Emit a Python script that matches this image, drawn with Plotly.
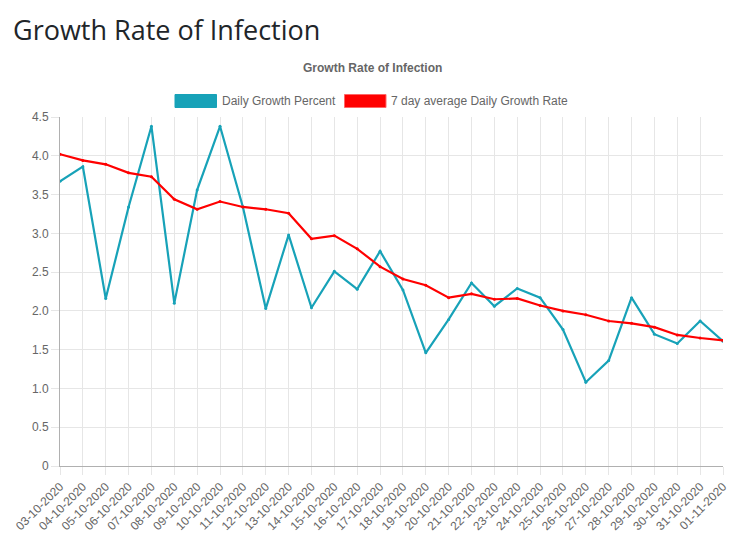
import plotly.graph_objects as go

dates = ["03-10-2020", "04-10-2020", "05-10-2020", "06-10-2020", "07-10-2020", "08-10-2020",
         "09-10-2020", "10-10-2020", "11-10-2020", "12-10-2020", "13-10-2020", "14-10-2020",
         "15-10-2020", "16-10-2020", "17-10-2020", "18-10-2020", "19-10-2020", "20-10-2020",
         "21-10-2020", "22-10-2020", "23-10-2020", "24-10-2020", "25-10-2020", "26-10-2020",
         "27-10-2020", "28-10-2020", "29-10-2020", "30-10-2020", "31-10-2020", "01-11-2020"]

daily_growth = [3.67, 3.86, 2.16, 3.34, 4.38, 2.10, 3.56, 4.38, 3.34, 2.03,
                2.98, 2.04, 2.51, 2.28, 2.77, 2.27, 1.46, 1.89, 2.36, 2.06,
                2.29, 2.17, 1.76, 1.08, 1.36, 2.17, 1.70, 1.58, 1.87, 1.61]

avg_7day = [4.02, 3.94, 3.89, 3.78, 3.73, 3.44, 3.31, 3.41, 3.34, 3.31,
            3.26, 2.93, 2.97, 2.80, 2.57, 2.41, 2.33, 2.17, 2.22, 2.15,
            2.16, 2.07, 2.00, 1.95, 1.87, 1.84, 1.79, 1.69, 1.65, 1.62]

y_ticks = [0, 0.5, 1.0, 1.5, 2.0, 2.5, 3.0, 3.5, 4.0, 4.5]
y_tick_labels = ["0", "0.5", "1.0", "1.5", "2.0", "2.5", "3.0", "3.5", "4.0", "4.5"]

series_names = ["Daily Growth Percent", "7 day average Daily Growth Rate"]
blue = "#17a2b8"
red = "#ff0000"

W, H = 745, 556
L, R, T, B = 60, 22, 117, 90
PW, PH = W - L - R, H - T - B

fig = go.Figure()
fig.add_trace(go.Scatter(x=dates, y=daily_growth, name=series_names[0], mode="lines+markers",
                         line=dict(color=blue, width=2.2), marker=dict(size=3, color=blue),
                         showlegend=False))
fig.add_trace(go.Scatter(x=dates, y=avg_7day, name=series_names[1], mode="lines+markers",
                         line=dict(color=red, width=2.2), marker=dict(size=3, color=red),
                         showlegend=False))

font_family = "Liberation Sans, Arial, Helvetica, sans-serif"


def px_x(p):
    return (p - L) / PW


def px_y(p):
    return (H - B - p) / PH


shapes = [
    dict(type="rect", xref="paper", yref="paper", x0=px_x(175), x1=px_x(216.5), y0=px_y(107.5), y1=px_y(94.5),
         fillcolor=blue, line=dict(color=blue, width=1)),
    dict(type="rect", xref="paper", yref="paper", x0=px_x(344.5), x1=px_x(386), y0=px_y(107.5), y1=px_y(94.5),
         fillcolor=red, line=dict(color="#ff6666", width=1)),
]

annotations = [
    dict(text="Growth Rate of Infection", xref="paper", yref="paper", x=px_x(11), y=px_y(29),
         xanchor="left", yanchor="middle", showarrow=False,
         font=dict(family="Open Sans, Noto Sans, sans-serif", size=27, color="#212529")),
    dict(text="<b>Growth Rate of Infection</b>", xref="paper", yref="paper", x=px_x(372), y=px_y(68),
         xanchor="center", yanchor="middle", showarrow=False,
         font=dict(family=font_family, size=12, color="#666666")),
    dict(text=series_names[0], xref="paper", yref="paper", x=px_x(220), y=px_y(101),
         xanchor="left", yanchor="middle", showarrow=False,
         font=dict(family=font_family, size=12, color="#666666")),
    dict(text=series_names[1], xref="paper", yref="paper", x=px_x(389), y=px_y(101),
         xanchor="left", yanchor="middle", showarrow=False,
         font=dict(family=font_family, size=12, color="#666666")),
]

fig.update_layout(
    width=W, height=H,
    margin=dict(l=L, r=R, t=T, b=B, autoexpand=False),
    paper_bgcolor="white", plot_bgcolor="white",
    font=dict(family=font_family, size=12, color="#666666"),
    shapes=shapes, annotations=annotations,
    showlegend=False,
)

fig.update_xaxes(
    type="category", range=[0, len(dates) - 1], tickangle=-45,
    showgrid=True, gridcolor="#e6e6e6", gridwidth=1,
    showline=True, linecolor="#b0b0b0", linewidth=1,
    ticks="outside", ticklen=8, tickcolor="#e6e6e6",
    tickfont=dict(family=font_family, size=12, color="#666666"),
    zeroline=False, mirror=False,
)
fig.update_yaxes(
    range=[0, 4.5], tickvals=y_ticks, ticktext=y_tick_labels,
    showgrid=True, gridcolor="#e6e6e6", gridwidth=1,
    showline=True, linecolor="#b0b0b0", linewidth=1,
    ticks="outside", ticklen=8, tickcolor="#e6e6e6",
    tickfont=dict(family=font_family, size=12, color="#666666"),
    zeroline=False,
)

fig.write_html("out.html", config={"displayModeBar": False},
               post_script="document.body.style.margin='0';")
